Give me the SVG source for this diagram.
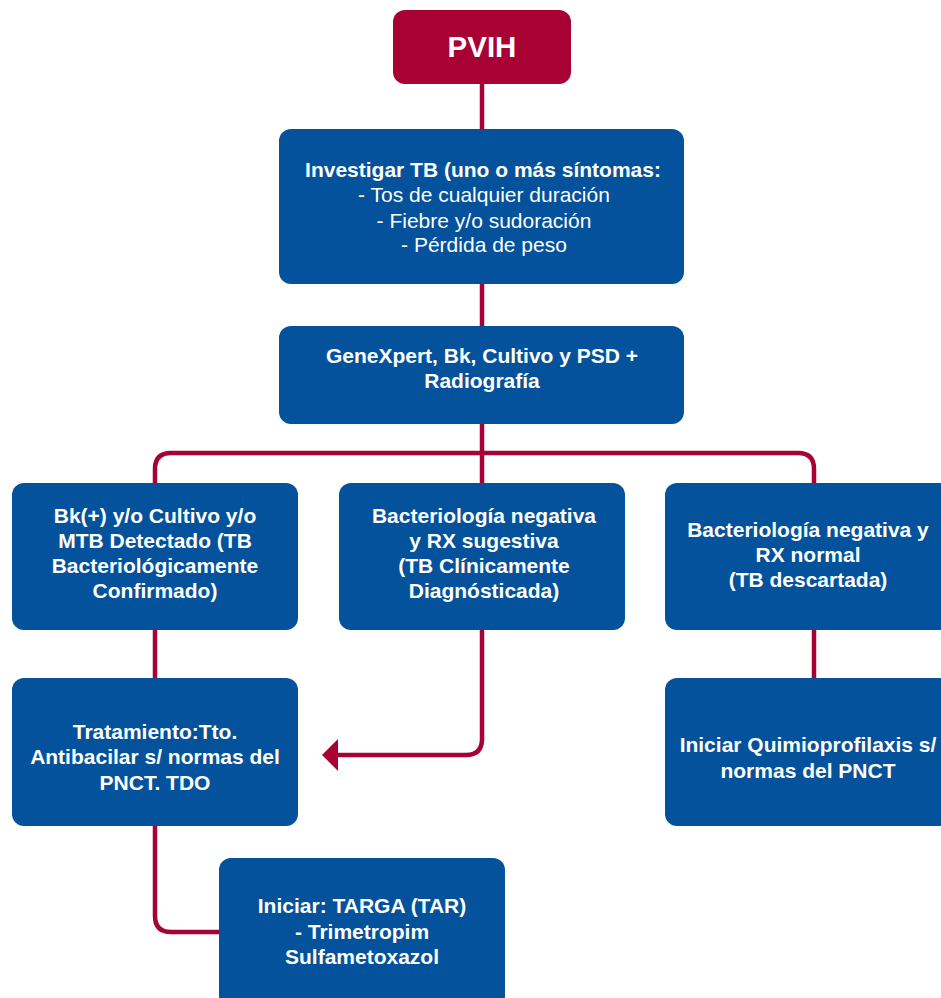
<svg xmlns="http://www.w3.org/2000/svg" width="941" height="998" viewBox="0 0 941 998">
<style>
.box{fill:#03529B;}
.red{fill:#A80234;}
.conn{fill:none;stroke:#A80234;stroke-width:4.5;}
text{font-family:"Liberation Sans",Arial,sans-serif;fill:#ffffff;text-anchor:middle;font-size:21px;font-weight:700;}
.reg{font-weight:400;}
.big{font-size:29.5px;}
</style>
<rect width="941" height="998" fill="#ffffff"/>
<g id="connectors">
<path class="conn" d="M482,84 V129"/>
<path class="conn" d="M482,284 V326"/>
<path class="conn" d="M482,424 V483"/>
<path class="conn" d="M155,483 V469 Q155,453 171,453 H798 Q814,453 814,469 V483"/>
<path class="conn" d="M155,630 V678"/>
<path class="conn" d="M814,630 V678"/>
<path class="conn" d="M155,826 V916 Q155,932 171,932 H219"/>
<path class="conn" d="M482,630 V739 Q482,755 466,755 H336"/>
<polygon class="red" points="322,755 338,739 338,771"/>
</g>
<g id="pvih">
<rect class="red" x="393" y="10" width="178" height="74" rx="12"/>
<text class="big" x="482" y="57">PVIH</text>
</g>
<g id="investigar">
<rect class="box" x="279" y="129" width="405" height="155" rx="12"/>
<text x="483" y="177">Investigar TB (uno o más síntomas:</text>
<text class="reg" x="484" y="202">- Tos de cualquier duración</text>
<text class="reg" x="484" y="228">- Fiebre y/o sudoración</text>
<text class="reg" x="484" y="252">- Pérdida de peso</text>
</g>
<g id="genexpert">
<rect class="box" x="279" y="326" width="405" height="98" rx="12"/>
<text x="482" y="363">GeneXpert, Bk, Cultivo y PSD +</text>
<text x="482" y="388">Radiografía</text>
</g>
<g id="confirmado">
<rect class="box" x="12" y="483" width="286" height="147" rx="12"/>
<text x="155" y="523">Bk(+) y/o Cultivo y/o</text>
<text x="155" y="548">MTB Detectado (TB</text>
<text x="155" y="573">Bacteriológicamente</text>
<text x="155" y="598">Confirmado)</text>
</g>
<g id="clinico">
<rect class="box" x="339" y="483" width="286" height="147" rx="12"/>
<text x="484" y="523">Bacteriología negativa</text>
<text x="484" y="548">y RX sugestiva</text>
<text x="484" y="573">(TB Clínicamente</text>
<text x="484" y="598">Diagnósticada)</text>
</g>
<g id="descartada">
<rect class="box" x="665" y="483" width="290" height="147" rx="12"/>
<text x="808" y="537">Bacteriología negativa y</text>
<text x="808" y="562">RX normal</text>
<text x="808" y="587">(TB descartada)</text>
</g>
<g id="tratamiento">
<rect class="box" x="12" y="678" width="286" height="148" rx="12"/>
<text x="155" y="739">Tratamiento:Tto.</text>
<text x="155" y="764">Antibacilar s/ normas del</text>
<text x="155" y="790">PNCT. TDO</text>
</g>
<g id="quimio">
<rect class="box" x="665" y="678" width="290" height="148" rx="12"/>
<text x="808" y="752">Iniciar Quimioprofilaxis s/</text>
<text x="808" y="778">normas del PNCT</text>
</g>
<g id="targa">
<rect class="box" x="219" y="858" width="286" height="150" rx="12"/>
<text x="362" y="913">Iniciar: TARGA (TAR)</text>
<text x="362" y="939">- Trimetropim</text>
<text x="362" y="964">Sulfametoxazol</text>
</g>
</svg>
